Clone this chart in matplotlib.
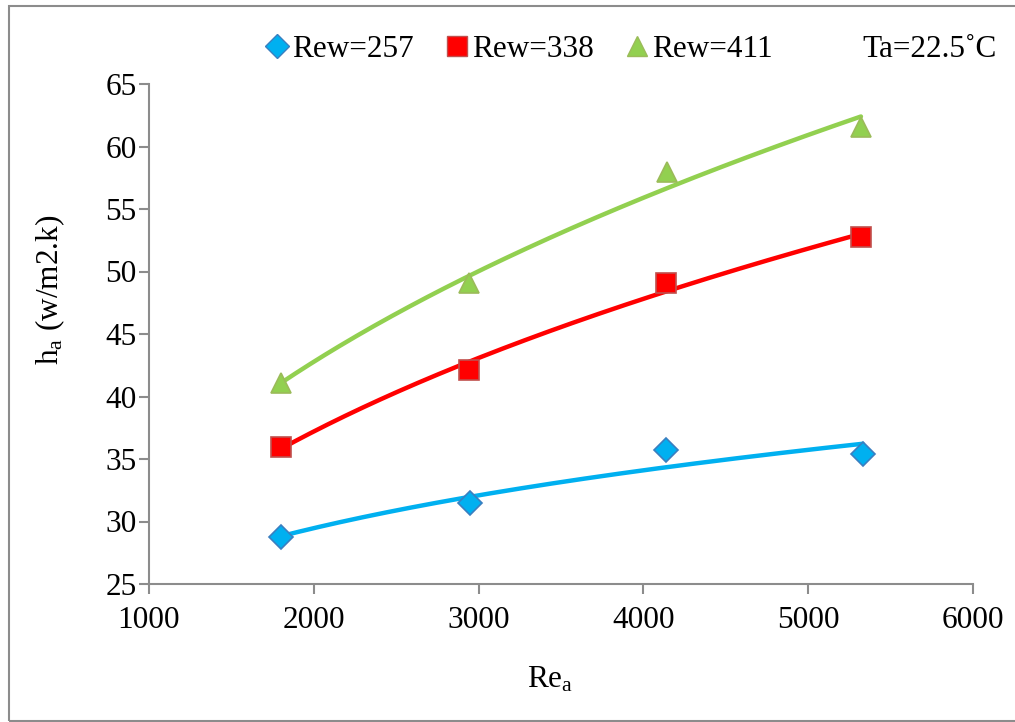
import numpy as np
import matplotlib
matplotlib.use("Agg")
import matplotlib.pyplot as plt
from matplotlib.lines import Line2D
from matplotlib.patches import Rectangle

plt.rcParams['font.family'] = ['Liberation Serif', 'DejaVu Serif']
plt.rcParams['mathtext.fontset'] = 'custom'
plt.rcParams['mathtext.rm'] = 'Liberation Serif'
plt.rcParams['mathtext.it'] = 'Liberation Serif:italic'

# Data
re_257 = [1800, 2950, 4140, 5330]
ha_257 = [28.8, 31.5, 35.7, 35.4]
re_338 = [1800, 2940, 4135, 5320]
ha_338 = [36.0, 42.1, 49.1, 52.8]
re_411 = [1800, 2940, 4145, 5320]
ha_411 = [41.1, 49.1, 58.0, 61.6]
labels = ["Rew=257", "Rew=338", "Rew=411"]
xticks = [1000, 2000, 3000, 4000, 5000, 6000]
yticks = [25, 30, 35, 40, 45, 50, 55, 60, 65]

FS = 22.5
W, H = 1015, 722

series = [
    (re_257, ha_257, 'D', '#00B0F0', '#3A7FC0', '#00B0F0', 12),
    (re_338, ha_338, 's', '#FF0000', '#C0504D', '#FF0000', 14.5),
    (re_411, ha_411, '^', '#92D050', '#9BBB59', '#92D050', 15),
]

fig = plt.figure(figsize=(W / 100, H / 100), dpi=100)
ax = fig.add_axes([149 / W, 1 - 584 / H, (973 - 149) / W, (584 - 84) / H])

for (x, y, m, fc, ec, lc, ms) in series:
    x = np.array(x, float); y = np.array(y, float)
    b, loga = np.polyfit(np.log(x), np.log(y), 1)
    xs = np.linspace(x.min(), x.max(), 200)
    ax.plot(xs, np.exp(loga) * xs ** b, color=lc, lw=3.2, zorder=2, solid_capstyle='round')
    ax.plot(x, y, linestyle='none', marker=m, ms=ms, mfc=fc, mec=ec, mew=1.2, zorder=3)

ax.set_xlim(1000, 6000)
ax.set_ylim(25, 65)
ax.set_xticks(xticks)
ax.set_yticks(yticks)
for s in ['top', 'right']:
    ax.spines[s].set_visible(False)
for s in ['left', 'bottom']:
    ax.spines[s].set_color('#8C8C8C')
    ax.spines[s].set_linewidth(1.5)
ax.tick_params(axis='both', colors='#8C8C8C', labelcolor='black', labelsize=FS, length=7, width=1.5)
ax.tick_params(axis='x', pad=9)
ax.tick_params(axis='y', pad=2)

fig.text(50 / W, 1 - 290 / H, r'h$_\mathrm{a}$ (w/m2.k)', rotation=90, ha='center', va='center', fontsize=FS)
fig.text(527 / W, 1 - 687 / H, r'Re$_\mathrm{a}$', ha='left', va='baseline', fontsize=FS)

# Legend row (top)
leg_marker_x = [277, 457, 637]
for (x, y, m, fc, ec, lc, ms), lab, mx in zip(series, labels, leg_marker_x):
    fig.add_artist(Line2D([mx / W], [1 - 46 / H], transform=fig.transFigure, linestyle='none',
                          marker=m, ms=ms, mfc=fc, mec=ec, mew=1.0))
    fig.text((mx + 15) / W, 1 - 57 / H, lab, ha='left', va='baseline', fontsize=FS)
fig.text(862 / W, 1 - 57 / H, 'Ta=22.5˚C', ha='left', va='baseline', fontsize=FS)

fig.patches.append(Rectangle((9 / W, 1 - 721 / H), (1030 - 9) / W, (721 - 6) / H,
                             transform=fig.transFigure, fill=False, edgecolor='#8C8C8C', lw=1.5))

fig.savefig('out.png', dpi=100)
